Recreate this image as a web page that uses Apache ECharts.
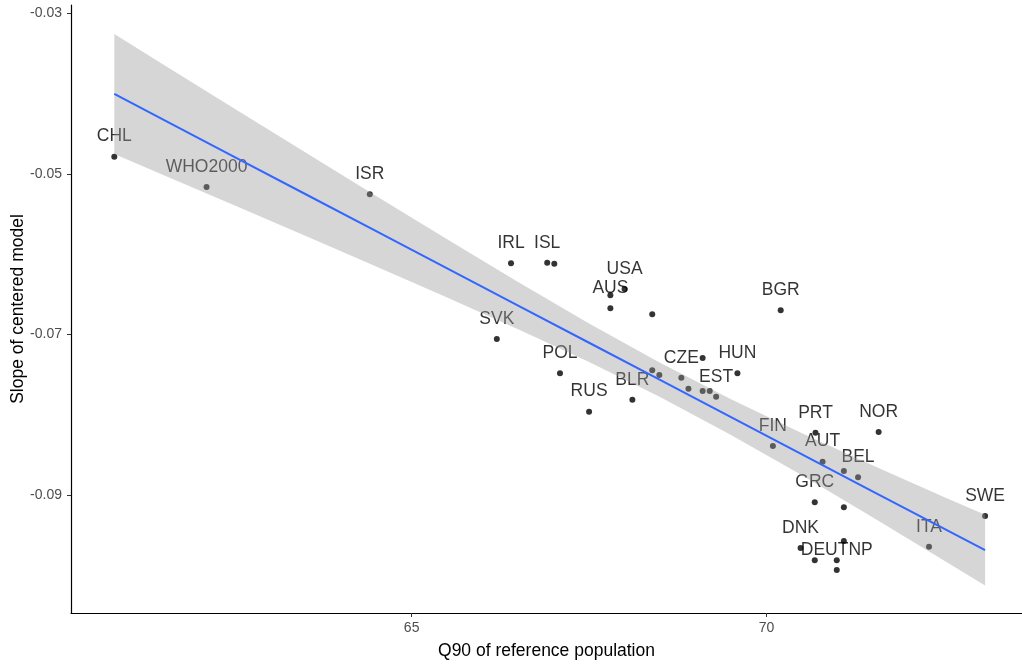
<!DOCTYPE html>
<html>
<head>
<meta charset="utf-8">
<script src="https://cdn.jsdelivr.net/npm/echarts@6/dist/echarts.min.js"></script>
<style>
html,body{margin:0;padding:0;background:#fff;}
#c{width:1022px;height:664px;}
</style>
</head>
<body>
<div id="c"></div>
<script>
// Point data
const codes = ['CHL','WHO2000','ISR','IRL','ISL','','USA','','AUS','','BGR','SVK','POL','RUS','BLR','','','CZE','','','','','EST','HUN','FIN','PRT','NOR','AUT','','BEL','GRC','','SWE','ITA','DNK','','','','DEUTNP'];
const q90 = [60.81,62.11,64.41,66.40,66.91,67.01,68.00,67.80,67.80,68.39,70.20,66.20,67.09,67.50,68.11,68.39,68.49,68.80,68.90,69.10,69.10,69.20,69.29,69.59,70.09,70.69,71.58,70.79,71.09,71.29,70.68,71.09,73.08,72.29,70.48,71.09,70.68,70.99,70.99];
const slope = [-0.04786,-0.05164,-0.05255,-0.06114,-0.06107,-0.06119,-0.06434,-0.06513,-0.06675,-0.06749,-0.06700,-0.07057,-0.07484,-0.07962,-0.07813,-0.07447,-0.07506,-0.07539,-0.07676,-0.07294,-0.07705,-0.07705,-0.07776,-0.07484,-0.08390,-0.08224,-0.08216,-0.08585,-0.08701,-0.08780,-0.09091,-0.09154,-0.09262,-0.09644,-0.09660,-0.09573,-0.09814,-0.09814,-0.09935];

// Fitted line and confidence band
const bandX = [60.81,61.5,62.5,63.5,64.5,65.5,66.5,67.5,68.5,69.5,70.5,71.5,72.5,73.08];
const fitY = [-0.04005,-0.04325,-0.04788,-0.05251,-0.05714,-0.06177,-0.06641,-0.07104,-0.07567,-0.08030,-0.08493,-0.08957,-0.09420,-0.09688];
const bandUpper = [-0.03258,-0.03637,-0.04185,-0.04731,-0.05275,-0.05814,-0.06346,-0.06863,-0.07354,-0.07809,-0.08231,-0.08634,-0.09024,-0.09247];
const bandLower = [-0.04752,-0.05013,-0.05391,-0.05771,-0.06153,-0.06540,-0.06936,-0.07345,-0.07780,-0.08252,-0.08755,-0.09281,-0.09816,-0.10129];

// Axis tick labels
const xTicks = [65, 70];
const yTicks = [-0.09, -0.07, -0.05, -0.03];

const FONT = '"Liberation Sans", Arial, sans-serif';
const chart = echarts.init(document.getElementById('c'), null, {renderer: 'canvas'});

const pts = q90.map((x, i) => [x, slope[i], codes[i]]);

chart.setOption({
  animation: false,
  backgroundColor: '#ffffff',
  grid: {left: 71, right: 0, top: 5, bottom: 51, containLabel: false, outerBoundsMode: 'none'},
  xAxis: {
    type: 'value', min: 60.2, max: 73.6,
    name: 'Q90 of reference population', nameLocation: 'middle', nameGap: 29, nameMoveOverlap: false,
    nameTextStyle: {fontFamily: FONT, fontSize: 17.5, color: '#000'},
    axisLine: {show: true, onZero: false, lineStyle: {color: '#000', width: 1.2}},
    axisTick: {show: true, length: 4, customValues: xTicks, lineStyle: {color: '#333'}},
    axisLabel: {customValues: xTicks, margin: 8, fontFamily: FONT, fontSize: 14, color: '#4D4D4D'},
    splitLine: {show: false}
  },
  yAxis: {
    type: 'value', min: -0.1047, max: -0.02897,
    name: 'Slope of centered model', nameLocation: 'middle', nameGap: 44, nameMoveOverlap: false,
    nameTextStyle: {fontFamily: FONT, fontSize: 17.5, color: '#000'},
    axisLine: {show: true, onZero: false, lineStyle: {color: '#000', width: 1.2}},
    axisTick: {show: true, length: 4, customValues: yTicks, lineStyle: {color: '#333'}},
    axisLabel: {customValues: yTicks, margin: 9, fontFamily: FONT, fontSize: 14, color: '#4D4D4D',
      formatter: v => v.toFixed(2)},
    splitLine: {show: false}
  },
  series: [
    {
      type: 'scatter', z: 2,
      data: pts,
      symbol: 'circle', symbolSize: 6,
      itemStyle: {color: '#000'},
      label: {
        show: true, position: 'inside', offset: [0, -20],
        formatter: p => p.value[2],
        fontFamily: FONT, fontSize: 17.5, color: '#000'
      },
      emphasis: {disabled: true}
    },
    {
      type: 'custom', z: 3,
      data: [[bandX[0], bandUpper[0]]],
      renderItem: function (params, api) {
        const points = [];
        for (let i = 0; i < bandX.length; i++) points.push(api.coord([bandX[i], bandUpper[i]]));
        for (let i = bandX.length - 1; i >= 0; i--) points.push(api.coord([bandX[i], bandLower[i]]));
        return {type: 'polygon', shape: {points: points}, style: {fill: '#999999', opacity: 0.4}};
      },
      silent: true
    },
    {
      type: 'line', z: 4,
      data: bandX.map((x, i) => [x, fitY[i]]),
      showSymbol: false, symbol: 'none',
      lineStyle: {color: '#3366FF', width: 2},
      silent: true
    }
  ]
});
</script>
</body>
</html>
